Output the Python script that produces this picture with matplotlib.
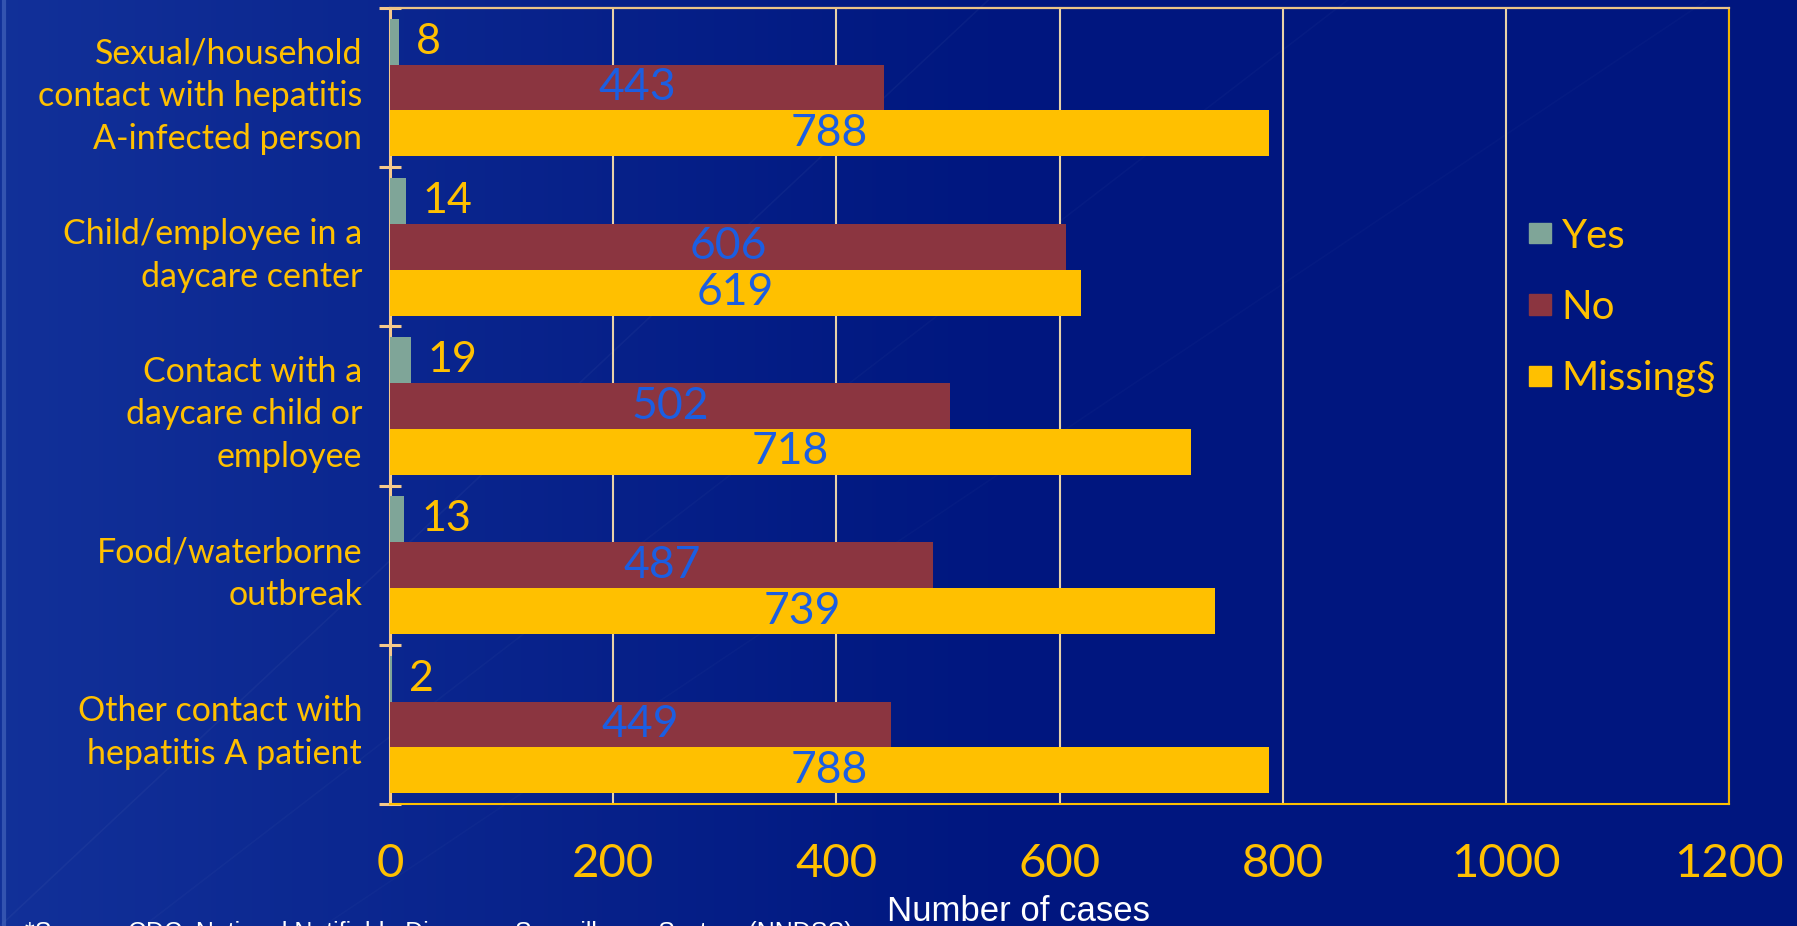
import matplotlib.pyplot as plt
import numpy as np
from matplotlib.patches import Patch

CATEGORIES = [
    "Sexual/household\ncontact with hepatitis\nA-infected person",
    "Child/employee in a\ndaycare center",
    "Contact with a\ndaycare child or\nemployee",
    "Food/waterborne\noutbreak",
    "Other contact with\nhepatitis A patient",
]
YES = [8, 14, 19, 13, 2]
NO = [443, 606, 502, 487, 449]
MISSING = [788, 619, 718, 739, 788]
SERIES_NAMES = ["Yes", "No", "Missing\u00a7"]
X_TICKS = [0, 200, 400, 600, 800, 1000, 1200]

YELLOW = '#ffc000'
TEAL = '#7fa598'
MAROON = '#8b3540'
BLUE_TEXT = '#1b5ee2'
TAN = '#f5c98c'
FONT = 'Lato'


def draw_background(fig):
    bg = fig.add_axes([0, 0, 1, 1], zorder=-10)
    xs = np.linspace(0, 1, 400)
    left = np.array([0.07, 0.19, 0.60])
    right = np.array([0.0, 0.09, 0.50])
    w = np.clip(xs / 0.55, 0, 1)[:, None]
    row = left * (1 - w) + right * w
    img = np.repeat(row[None, :, :], 10, axis=0)
    bg.imshow(img, aspect='auto', extent=[0, 1, 0, 1])
    # faint diagonal streaks
    for x0, x1, a in [(0.0, 0.55, 0.035), (0.08, 0.75, 0.025), (0.18, 0.95, 0.02)]:
        bg.plot([x0, x1], [0, 1], color='white', alpha=a, linewidth=1.2)
    bg.plot([0.002, 0.002], [0, 1], color='#4a6cc0', linewidth=3, alpha=0.6)
    bg.set_xlim(0, 1)
    bg.set_ylim(0, 1)
    bg.axis('off')


def main():
    fig = plt.figure(figsize=(17.97, 9.26), dpi=100)
    fig.patch.set_facecolor('#021a85')
    draw_background(fig)

    ax = fig.add_axes([0.2170, 0.1317, 0.7452, 0.8597])
    ax.patch.set_alpha(0)

    y = np.arange(len(CATEGORIES))
    h = 0.288
    b_yes = ax.barh(y - h, YES, height=h, color=TEAL, label=SERIES_NAMES[0], zorder=3)
    b_no = ax.barh(y, NO, height=h, color=MAROON, label=SERIES_NAMES[1], zorder=3)
    b_mis = ax.barh(y + h, MISSING, height=h, color=YELLOW, label=SERIES_NAMES[2], zorder=3)

    ax.bar_label(b_yes, labels=[str(v) for v in YES], padding=12, color=YELLOW,
                 fontsize=31, family=FONT)
    ax.bar_label(b_no, labels=[str(v) for v in NO], label_type='center', color=BLUE_TEXT,
                 fontsize=32, family=FONT)
    ax.bar_label(b_mis, labels=[str(v) for v in MISSING], label_type='center', color=BLUE_TEXT,
                 fontsize=32, family=FONT)

    ax.set_xlim(0, 1200)
    ax.set_ylim(len(CATEGORIES) - 0.5, -0.5)

    ax.set_xticks(X_TICKS)
    ax.set_xticklabels([str(t) for t in X_TICKS], color=YELLOW, fontsize=34, family=FONT)
    ax.tick_params(axis='x', length=0, pad=28)
    ax.grid(axis='x', color='#e8d2a8', linewidth=1.5, zorder=0)
    ax.set_axisbelow(True)

    ax.set_yticks(y)
    ax.set_yticklabels(CATEGORIES, color=YELLOW, fontsize=24.5, family=FONT,
                       linespacing=1.42)
    ax.tick_params(axis='y', which='major', length=0, pad=20)
    ax.set_yticks(np.arange(-0.5, len(CATEGORIES), 1), minor=True)
    ax.tick_params(axis='y', which='minor', length=16, width=2.2, direction='inout',
                   color=TAN)

    ax.spines['left'].set_color(TAN)
    ax.spines['left'].set_linewidth(2.2)
    ax.spines['top'].set_color('#ecc486')
    ax.spines['top'].set_linewidth(1.6)
    ax.spines['right'].set_color('#f2b400')
    ax.spines['right'].set_linewidth(1.5)
    ax.spines['bottom'].set_color(YELLOW)
    ax.spines['bottom'].set_linewidth(1.5)

    handles = [Patch(color=TEAL), Patch(color=MAROON), Patch(color=YELLOW)]
    leg = fig.legend(handles, SERIES_NAMES, loc='center left',
                     bbox_to_anchor=(0.851, 0.668), frameon=False,
                     prop={'family': FONT, 'size': 29},
                     handlelength=0.55, handleheight=0.4, handletextpad=0.25,
                     labelspacing=0.85, borderpad=0, borderaxespad=0)
    for t in leg.get_texts():
        t.set_color(YELLOW)

    fig.text(0.5665, 0.0054, "Number of cases", color='white', fontsize=25,
             family='Liberation Sans', ha='center', va='baseline')
    # the source line is cut by the bottom edge in the original slide too
    fig.text(0.014, 0.005, "*Source: CDC, National Notifiable Diseases Surveillance System (NNDSS)",
             color='white', fontsize=18, family='Liberation Sans', ha='left', va='top')

    fig.savefig('out.png', dpi=100, facecolor=fig.get_facecolor())


if __name__ == "__main__":
    main()
